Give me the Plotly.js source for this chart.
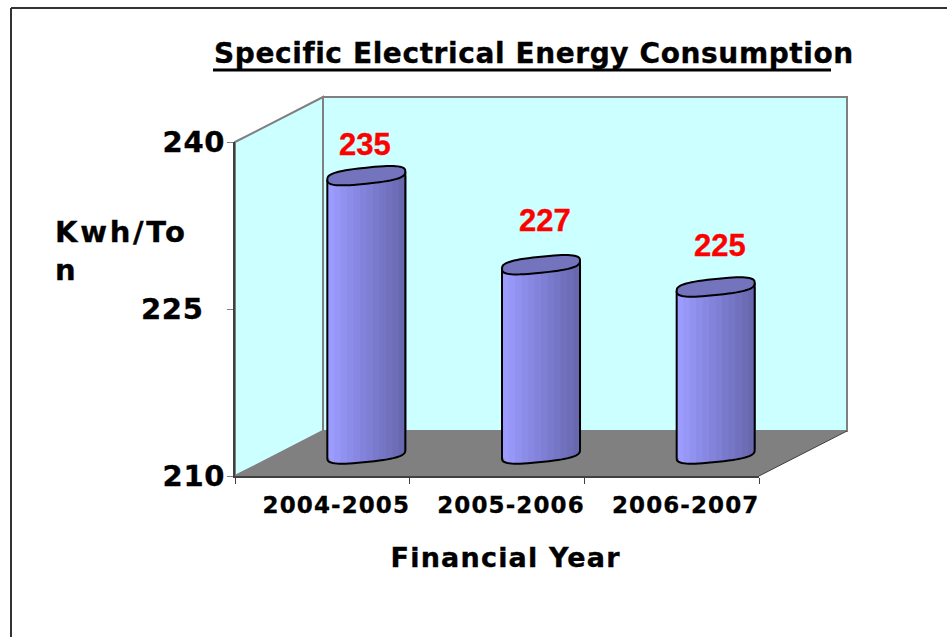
<!DOCTYPE html>
<html>
<head>
<meta charset="utf-8">
<script src="https://cdn.plot.ly/plotly-3.0.1.min.js"></script>
<style>html,body{margin:0;padding:0;background:#fff}#chart{width:947px;height:637px}
.gtitle{letter-spacing:.6px;stroke:#000;stroke-width:.35px}
.ytick text{letter-spacing:.7px;stroke:#000;stroke-width:.35px}
.x3tick text{letter-spacing:1.1px;stroke:#000;stroke-width:.3px}
.x3title{letter-spacing:1.2px;stroke:#000;stroke-width:.35px}
.annotation text{stroke:#FF0000;stroke-width:.35px}
.annotation.kwh text{letter-spacing:2.7px;stroke:#000}
</style>
</head>
<body>
<div id="chart"></div>
<script>
const categories = ['2004-2005', '2005-2006', '2006-2007'];
const values = [235, 227, 225];
const yTickVals = [210, 225, 240];
const yTickText = ['210', '225\u00A0\u00A0', '240'];
const stripeColors = ['#9C9CFF','#9797F8','#9191F0','#8C8CE9','#8888E3','#8383DC','#7F7FD5','#7A7ACD','#7676C6','#7171BE','#6D6DB7','#6868AF'];
const labelLift = [31, 44, 42];
const labelShift = [-1, 4, 4];

const W = 947, H = 637;
const fx = p => p / W, fy = p => 1 - p / H;
const FL = 235, FR = 759, FT = 142, FB = 476;       // front plane
const DX = 88, DY = 45;                             // full depth of the box
const BX = 44, BY = 22;                             // depth of the cylinders
const pxPerUnit = (FB - FT) / 30, pxPerCat = (FR - FL) / 3;
const A = 39, S = 4, K = 8, PW = 0.7;               // cylinder half width, tilt, half height, squareness
const N = 2 / PW;
const LOW = 200, HIGH = 240;
const font = 'DejaVu Sans, Verdana, sans-serif';

const poly = pts => 'M' + pts.map(p => fx(p[0]) + ',' + fy(p[1])).join('L') + 'Z';
const rim = u => -S * u + K * Math.pow(Math.max(0, 1 - Math.pow(Math.abs(u), N)), 1 / N);
const sq = v => Math.sign(v) * Math.pow(Math.abs(v), PW);
const dataPath = (i, base, list, close) => 'M' + list.map(o =>
  (i + o[0] / pxPerCat) + ',' + (base - o[1] / pxPerUnit)).join('L') + (close ? 'Z' : '');

const STRIPS = 36;
const traces = [];
traces.push({x: [0.5, 1.5, 2.5], y: values, type: 'scatter', mode: 'markers', marker: {opacity: 0},
  hoverinfo: 'skip', showlegend: false, xaxis: 'x', yaxis: 'y'});
for (let k = 0; k < STRIPS; k++) {
  const u0 = -1 + 2 * k / STRIPS, u1 = -1 + 2 * (k + 1) / STRIPS;
  const drop = Math.min(rim(u0), rim(u1)) / pxPerUnit;
  const base = 210 - drop;
  traces.push({
    type: 'bar', x: [0, 1, 2], y: values.map(v => v - base), base: base,
    xaxis: 'x2', yaxis: 'y2', hoverinfo: 'skip', showlegend: false,
    offset: u0 * A / pxPerCat, width: (u1 - u0) * A / pxPerCat + 0.006,
    marker: {color: stripeColors[Math.floor(k * stripeColors.length / STRIPS)], line: {width: 0}}
  });
}
traces.push({x: [0, 1, 2], y: values, type: 'scatter', mode: 'markers', marker: {opacity: 0},
  hoverinfo: 'skip', showlegend: false, xaxis: 'x3', yaxis: 'y'});

const shapes = [
  {type: 'path', layer: 'below', xref: 'paper', yref: 'paper',
   path: poly([[FL, FT], [FL + DX, FT - DY], [FL + DX, FB - DY], [FL, FB]]),
   fillcolor: '#CCFFFF', line: {color: '#808080', width: 2}},
  {type: 'path', layer: 'below', xref: 'paper', yref: 'paper',
   path: poly([[FL + DX, FT - DY], [FR + DX, FT - DY], [FR + DX, FB - DY], [FL + DX, FB - DY]]),
   fillcolor: '#CCFFFF', line: {color: '#808080', width: 2}},
  {type: 'path', layer: 'below', xref: 'paper', yref: 'paper',
   path: poly([[FL, FB], [FR, FB], [FR + DX, FB - DY], [FL + DX, FB - DY]]),
   fillcolor: '#808080', line: {width: 0}},
  {type: 'line', layer: 'below', xref: 'paper', yref: 'paper', x0: fx(FR), y0: fy(FB), x1: fx(FR + DX), y1: fy(FB - DY),
   line: {color: '#404040', width: 1}},
  {type: 'line', xref: 'paper', yref: 'paper', x0: fx(11), y0: fy(H), x1: fx(11), y1: fy(8), line: {color: '#333333', width: 2}},
  {type: 'line', xref: 'paper', yref: 'paper', x0: fx(11), y0: fy(8), x1: fx(947), y1: fy(8), line: {color: '#333333', width: 2}},
  {type: 'line', xref: 'paper', yref: 'paper', x0: fx(213), y0: fy(70), x1: fx(831), y1: fy(70), line: {color: '#000000', width: 3}}
];
values.forEach((v, i) => {
  const top = [], low = [];
  for (let d = 0; d <= 360; d += 6) {
    const c = sq(Math.cos(d * Math.PI / 180)), s = sq(Math.sin(d * Math.PI / 180));
    top.push([A * c, -S * c + K * s]);
  }
  for (let d = 180; d >= 0; d -= 6) {
    const c = sq(Math.cos(d * Math.PI / 180)), s = sq(Math.sin(d * Math.PI / 180));
    low.push([A * c, -S * c + K * s]);
  }
  shapes.push({type: 'path', xref: 'x2', yref: 'y2', layer: 'above',
    path: dataPath(i, 210, low, false), line: {color: '#000', width: 2}});
  shapes.push({type: 'line', xref: 'x2', yref: 'y2', layer: 'above',
    x0: i - A / pxPerCat, x1: i - A / pxPerCat, y0: 210 - S / pxPerUnit, y1: v - S / pxPerUnit, line: {color: '#000', width: 2}});
  shapes.push({type: 'line', xref: 'x2', yref: 'y2', layer: 'above',
    x0: i + A / pxPerCat, x1: i + A / pxPerCat, y0: 210 + S / pxPerUnit, y1: v + S / pxPerUnit, line: {color: '#000', width: 2}});
  shapes.push({type: 'path', xref: 'x2', yref: 'y2', layer: 'above',
    path: dataPath(i, v, top, true), fillcolor: '#7373BE', line: {color: '#000', width: 2}});
});

const annotations = values.map((v, i) => ({
  xref: 'x2', yref: 'y2', x: i, y: v, text: '<b>' + v + '</b>', showarrow: false,
  xshift: labelShift[i], yshift: labelLift[i], xanchor: 'center', yanchor: 'middle',
  font: {family: 'Liberation Sans, Arial, sans-serif', size: 31, color: '#FF0000'}
}));
annotations.push({xref: 'paper', yref: 'paper', x: fx(53), y: fy(251), xanchor: 'left', yanchor: 'middle', align: 'left',
  showarrow: false, text: '<b>Kwh/To<br>n</b>', captureevents: false, font: {family: font, size: 29, color: '#000'}});

const layout = {
  width: W, height: H, margin: {l: 0, r: 0, t: 0, b: 0},
  paper_bgcolor: '#FFFFFF', plot_bgcolor: 'rgba(0,0,0,0)', showlegend: false, barmode: 'overlay',
  title: {text: '<b>Specific Electrical Energy Consumption</b>', x: fx(214), xref: 'paper', xanchor: 'left',
    y: fy(53), yref: 'paper', yanchor: 'middle', font: {family: font, size: 28, color: '#000'}},
  xaxis: {domain: [fx(FL), fx(FR)], range: [0, 3], tickvals: [0, 1, 2, 3], showticklabels: false, showgrid: false, zeroline: false,
    ticks: 'outside', ticklen: 6, tickwidth: 1, tickcolor: '#404040', showline: true, linecolor: '#404040', linewidth: 2, anchor: 'y', fixedrange: true},
  yaxis: {domain: [fy(FB), fy(FT)], range: [210, 240], tickvals: yTickVals, ticktext: yTickText, showgrid: false, zeroline: false,
    ticks: 'outside', ticklen: 6, tickwidth: 1, tickcolor: '#808080', showline: true, linecolor: '#404040', linewidth: 2, anchor: 'x',
    ticklabelstandoff: -4,
    tickfont: {family: font, size: 29, color: '#000', weight: 700}, fixedrange: true},
  xaxis2: {domain: [fx(FL + BX), fx(FR + BX)], range: [-0.5, 2.5], visible: false, anchor: 'y2', fixedrange: true},
  yaxis2: {domain: [fy(FB - BY + (210 - LOW) * pxPerUnit), fy(FT - BY)], range: [LOW, HIGH], visible: false, anchor: 'x2', fixedrange: true},
  xaxis3: {domain: [fx(FL + 14), fx(FR + 14)], range: [-0.5, 2.5], tickvals: [0, 1, 2], ticktext: categories, anchor: 'y',
    showgrid: false, zeroline: false, showline: false, ticks: 'outside', ticklen: 8, tickcolor: 'rgba(0,0,0,0)',
    tickfont: {family: font, size: 23, color: '#000', weight: 700},
    title: {text: '<b>Financial Year\u00A0</b>', standoff: 31, font: {family: font, size: 27, color: '#000'}}, fixedrange: true},
  shapes: shapes, annotations: annotations
};
Plotly.newPlot('chart', traces, layout, {displayModeBar: false, staticPlot: true}).then(() => {
  document.querySelectorAll('.annotation').forEach(a => {
    if (a.textContent.indexOf('Kwh') === 0) a.classList.add('kwh');
  });
});
</script>
</body>
</html>
